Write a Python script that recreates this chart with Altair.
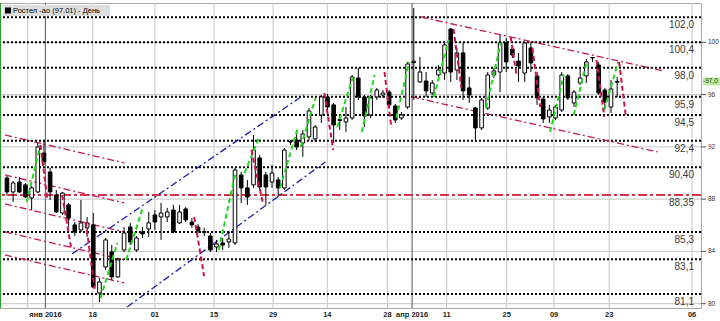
import altair as alt
import pandas as pd

# ---------------- data ----------------
opens = [89.62, 88.55, 89.31, 89.09, 88.09, 88.55, 91.53, 90.08, 88.32, 86.94,
         87.56, 86.03, 85.64, 85.80, 86.03, 80.82, 82.81, 83.96, 82.05, 84.11,
         85.87, 84.11, 85.49, 85.72, 86.79, 86.64, 86.64, 87.17, 86.18, 87.25,
         86.25, 85.87, 85.52, 85.18, 84.34, 84.65, 84.72, 84.65, 89.85, 88.86,
         89.09, 91.15, 89.85, 89.31, 89.47, 88.86, 92.38, 92.53, 92.30, 92.76,
         92.61, 94.44, 95.82, 95.21, 94.10, 93.91, 94.21, 97.27, 95.82, 94.44,
         95.82, 95.97, 96.20, 95.13, 94.21, 95.05, 98.45, 96.97, 97.04, 96.12,
         97.50, 97.65, 101.02, 97.88, 99.19, 96.51, 94.98, 93.45, 94.98, 97.50,
         97.73, 99.95, 99.49, 98.57, 97.65, 99.57, 97.43, 95.66, 94.29, 94.21,
         94.82, 97.43, 95.36, 96.89, 97.43, 98.80, 98.27, 96.35, 95.05, 96.95]
highs = [89.77, 89.39, 89.70, 89.24, 89.01, 92.30, 92.53, 90.39, 88.70, 88.55,
         87.71, 86.25, 87.94, 86.64, 86.94, 81.97, 85.03, 84.49, 83.50, 85.87,
         86.18, 85.18, 85.87, 87.02, 87.17, 87.71, 87.33, 87.56, 87.56, 87.40,
         86.56, 86.10, 85.80, 85.41, 84.88, 85.03, 85.57, 90.39, 90.08, 89.47,
         92.91, 91.38, 90.08, 90.62, 89.70, 91.92, 92.53, 93.29, 93.29, 94.98,
         93.68, 95.97, 96.05, 95.36, 94.44, 95.05, 97.50, 98.04, 95.97, 95.97,
         96.51, 96.35, 96.35, 95.28, 94.67, 98.50, 102.63, 98.88, 97.73, 97.12,
         98.27, 100.10, 101.10, 99.57, 99.95, 97.35, 95.05, 95.74, 97.73, 98.04,
         100.56, 100.33, 99.80, 99.19, 100.03, 100.03, 97.73, 95.82, 95.21, 95.21,
         97.73, 97.58, 96.35, 98.04, 98.73, 98.88, 98.50, 96.51, 97.12, 97.35]
lows = [88.24, 87.79, 88.47, 88.09, 87.17, 88.47, 90.62, 87.94, 86.94, 86.79,
        85.87, 85.18, 85.49, 85.10, 81.21, 80.13, 82.58, 81.82, 81.97, 83.96,
        84.49, 83.96, 85.03, 85.10, 85.64, 84.88, 86.25, 85.41, 86.10, 86.25,
        85.80, 85.41, 85.18, 83.96, 83.96, 84.11, 84.27, 84.49, 87.71, 87.56,
        88.86, 88.70, 87.56, 88.86, 88.17, 88.70, 92.15, 91.76, 91.23, 92.53,
        92.38, 93.83, 94.82, 92.30, 93.29, 93.14, 94.06, 95.59, 93.52, 94.21,
        95.59, 95.74, 95.05, 93.83, 94.06, 94.90, 95.59, 96.89, 95.82, 95.97,
        97.12, 97.12, 96.97, 97.12, 95.59, 95.36, 92.38, 93.29, 94.82, 97.27,
        96.20, 97.73, 98.80, 96.97, 96.97, 97.73, 95.21, 93.83, 93.83, 94.06,
        94.67, 95.59, 95.05, 96.74, 96.89, 98.50, 95.97, 95.05, 94.59, 95.82]
closes = [88.55, 89.24, 88.55, 88.17, 88.86, 92.00, 90.85, 88.55, 87.02, 88.47,
          86.56, 85.49, 86.18, 86.18, 81.28, 81.66, 84.88, 82.05, 83.35, 85.41,
          84.72, 85.03, 85.34, 86.18, 86.25, 86.94, 87.02, 85.49, 87.02, 86.41,
          86.03, 85.57, 85.46, 84.11, 84.57, 84.49, 84.95, 90.23, 88.86, 88.17,
          91.76, 88.93, 88.93, 90.00, 88.86, 91.76, 92.40, 92.00, 92.99, 94.75,
          93.52, 95.82, 95.05, 93.68, 94.02, 94.21, 97.35, 95.82, 94.36, 95.74,
          96.35, 96.12, 95.21, 94.06, 94.44, 98.34, 98.55, 97.73, 96.28, 96.89,
          97.88, 99.80, 97.73, 99.19, 96.28, 95.97, 93.45, 95.59, 97.50, 97.81,
          99.95, 98.50, 99.03, 98.19, 99.95, 98.42, 95.74, 94.14, 94.82, 95.05,
          97.50, 95.74, 96.20, 97.27, 98.50, 98.84, 96.12, 95.44, 96.43, 97.01]

level_values = [101.91, 100.00, 98.06, 95.84, 94.44, 92.47, 90.44, 85.49, 83.40, 80.74]
level_labels = ["102,0", "100,4", "98,0", "95,9", "94,5", "92,4", "90,40", "85,3", "83,1", "81,1"]
red_level_value = 88.32
red_level_label = "88,35"

price_ticks = [80, 84, 88, 92, 96, 100]
price_tick_labels = ["80", "84", "88", "92", "96", "100"]
last_price = 97.01

grid_days = [3.36, 6.24, 13.91, 23.99, 33.58, 43.18, 51.98, 61.73, 65.73, 71.33, 81.08, 88.76, 97.71, 111.15]
grid_labels = ["", "янв 2016", "18", "01", "15", "29", "14", "28", "апр 2016", "11", "25", "09", "23", "06"]
grid_major = [False, True, False, False, False, False, False, False, True, False, False, False, False, False]

# trend lines: (day1, price1, day2, price2)
red_channel = [(-0.32, 92.91, 19.03, 90.77), (-0.32, 89.85, 19.03, 87.71),
               (-0.32, 87.63, 19.03, 85.49), (-0.32, 85.49, 19.03, 83.35),
               (-0.32, 83.73, 19.03, 81.59),
               (67.17, 101.94, 106.51, 97.81), (65.73, 95.82, 105.55, 91.61)]
blue_channel = [(10.55, 83.81, 48.14, 95.97), (19.51, 79.75, 51.65, 90.85)]

swing_up = [(3.20, 87.78, 5.44, 92.15), (15.19, 80.44, 17.91, 84.65), (19.35, 83.35, 22.07, 87.40),
            (34.38, 84.11, 37.10, 90.08), (38.54, 90.00, 40.94, 92.76), (44.30, 88.86, 47.18, 93.45),
            (47.66, 92.00, 50.06, 95.74), (53.57, 93.52, 56.13, 97.35), (57.57, 93.14, 59.65, 97.50),
            (63.17, 94.21, 65.25, 98.50), (69.25, 95.82, 71.65, 100.18), (77.72, 94.98, 80.12, 99.95),
            (88.12, 93.14, 90.36, 97.50), (91.96, 94.44, 94.04, 98.50), (96.92, 94.82, 99.16, 98.50)]
swing_down = [(5.44, 92.15, 6.56, 87.94), (8.96, 88.32, 10.40, 84.27), (12.79, 86.25, 14.23, 81.13),
              (30.39, 86.64, 31.98, 82.12), (39.66, 91.76, 41.58, 87.56), (51.50, 96.12, 52.93, 91.76),
              (61.25, 97.73, 62.37, 93.45), (72.45, 101.02, 73.73, 96.51), (81.72, 100.41, 82.68, 97.50),
              (85.24, 99.57, 86.52, 95.05), (95.64, 98.65, 96.92, 94.29), (99.32, 98.50, 100.44, 94.21)]

title_text = "Ростел -ао (97.01) - День"

# ---------------- chart ----------------
W, H = 701, 305
xs = alt.Scale(domain=[-0.32, 111.79], nice=False, zero=False)
ys = alt.Scale(domain=[79.67, 103.01], nice=False, zero=False)

candles = pd.DataFrame({"day": list(range(len(opens))), "open": opens, "high": highs,
                        "low": lows, "close": closes})
levels = pd.DataFrame({"price": level_values, "label": level_labels})
redlev = pd.DataFrame({"price": [red_level_value], "label": [red_level_label]})
ticks = pd.DataFrame({"price": price_ticks, "label": price_tick_labels})
grid = pd.DataFrame({"day": grid_days, "label": grid_labels, "major": grid_major})


def seg_df(rows):
    return pd.DataFrame(rows, columns=["d1", "p1", "d2", "p2"])


def X(f):
    return alt.X(f, type="quantitative", scale=xs, axis=None)


def Y(f):
    return alt.Y(f, type="quantitative", scale=ys, axis=None)


hgrid = alt.Chart(ticks).mark_rule(color="#c4c4c4", strokeWidth=1).encode(y=Y("price"))
tick_marks = alt.Chart(ticks).mark_rule(color="#555", strokeWidth=1).encode(
    x=alt.value(W), x2=alt.value(W + 5), y=Y("price"))
tick_text = alt.Chart(ticks).mark_text(align="left", baseline="middle", fontSize=6.5,
                                       font="Liberation Sans", color="#333").encode(
    x=alt.value(W + 7), y=Y("price"), text="label:N")

vgrid_minor = alt.Chart(grid[~grid["major"]]).mark_rule(color="#cfcfcf", strokeWidth=1.2).encode(x=X("day"))
vgrid_major = alt.Chart(grid[grid["major"]]).mark_rule(color="#6e6e6e", strokeWidth=1.2).encode(x=X("day"))

dotted = alt.Chart(levels).mark_rule(color="black", strokeWidth=2, strokeDash=[2, 2]).encode(y=Y("price"))
redline = alt.Chart(redlev).mark_rule(color="#d0344a", strokeWidth=2, strokeDash=[9, 3, 3, 3]).encode(y=Y("price"))

red_tr = alt.Chart(seg_df(red_channel)).mark_rule(color="#c4185a", strokeWidth=1.3, strokeDash=[7, 3, 2, 3]).encode(
    x=X("d1"), y=Y("p1"), x2="d2", y2="p2")
blue_tr = alt.Chart(seg_df(blue_channel)).mark_rule(color="#1c1ca8", strokeWidth=1.3, strokeDash=[7, 3, 2, 3]).encode(
    x=X("d1"), y=Y("p1"), x2="d2", y2="p2")

wicks = alt.Chart(candles).mark_rule(color="black", strokeWidth=1).encode(x=X("day"), y=Y("low"), y2="high")
bodies = alt.Chart(candles).mark_bar(size=3.6, stroke="black", strokeWidth=1).encode(
    x=X("day"), y=Y("open"), y2="close",
    fill=alt.condition("datum.close >= datum.open", alt.value("white"), alt.value("black")))

up_sw = alt.Chart(seg_df(swing_up)).mark_rule(color="#22d81e", strokeWidth=2, strokeDash=[5, 3]).encode(
    x=X("d1"), y=Y("p1"), x2="d2", y2="p2")
dn_sw = alt.Chart(seg_df(swing_down)).mark_rule(color="#cc1446", strokeWidth=2, strokeDash=[5, 3]).encode(
    x=X("d1"), y=Y("p1"), x2="d2", y2="p2")

lev_text = alt.Chart(pd.concat([levels, redlev])).mark_text(
    align="right", baseline="middle", dy=8, fontSize=10, font="Liberation Sans", color="#3a3a3a").encode(
    x=alt.value(694), y=Y("price"), text="label:N")

date_text = alt.Chart(grid[grid["label"] != ""]).mark_text(
    align="center", baseline="middle", fontSize=7.5, fontWeight="bold", font="Liberation Sans", color="#222").encode(
    x=X("day"), y=alt.value(H + 7), text="label:N")

title_df = pd.DataFrame({"t": [title_text]})
title_box = alt.Chart(title_df).mark_rect(color="#dedede").encode(
    x=alt.value(3), x2=alt.value(110), y=alt.value(2), y2=alt.value(13))
title_sq = alt.Chart(title_df).mark_rect(color="black").encode(
    x=alt.value(5), x2=alt.value(11), y=alt.value(4.5), y2=alt.value(10.5))
title_tx = alt.Chart(title_df).mark_text(align="left", baseline="middle", fontSize=7.5,
                                         font="Liberation Sans", color="black").encode(
    x=alt.value(13), y=alt.value(7.5), text="t:N")

last_df = pd.DataFrame({"price": [last_price], "label": ["-97,0"]})
last_box = alt.Chart(last_df).transform_calculate(
    top="datum.price + 0.3", bot="datum.price - 0.3").mark_rect(color="#b9ee9a").encode(
    x=alt.value(703), x2=alt.value(720), y=Y("top:Q"), y2="bot:Q")
last_tx = alt.Chart(last_df).mark_text(align="left", baseline="middle", fontSize=6.5,
                                       font="Liberation Sans", color="#333").encode(
    x=alt.value(703), y=Y("price"), text="label:N")

left_edge = alt.Chart(title_df).mark_rule(color="#2aa02a", strokeWidth=1).encode(
    x=alt.value(0.5), y=alt.value(0), y2=alt.value(H))

chart = alt.layer(
    hgrid, vgrid_minor, vgrid_major, dotted, redline, red_tr, blue_tr,
    wicks, bodies, up_sw, dn_sw, lev_text, date_text, tick_marks, tick_text,
    title_box, title_sq, title_tx, last_box, last_tx, left_edge
).properties(
    width=W, height=H,
    autosize=alt.AutoSizeParams(type="none"),
    padding={"left": 0, "top": 3, "right": 19, "bottom": 13},
    background="white"
).configure_view(stroke="#a8a8a8", strokeWidth=1)

chart.save("out.html", embed_options={"renderer": "svg", "actions": False})
